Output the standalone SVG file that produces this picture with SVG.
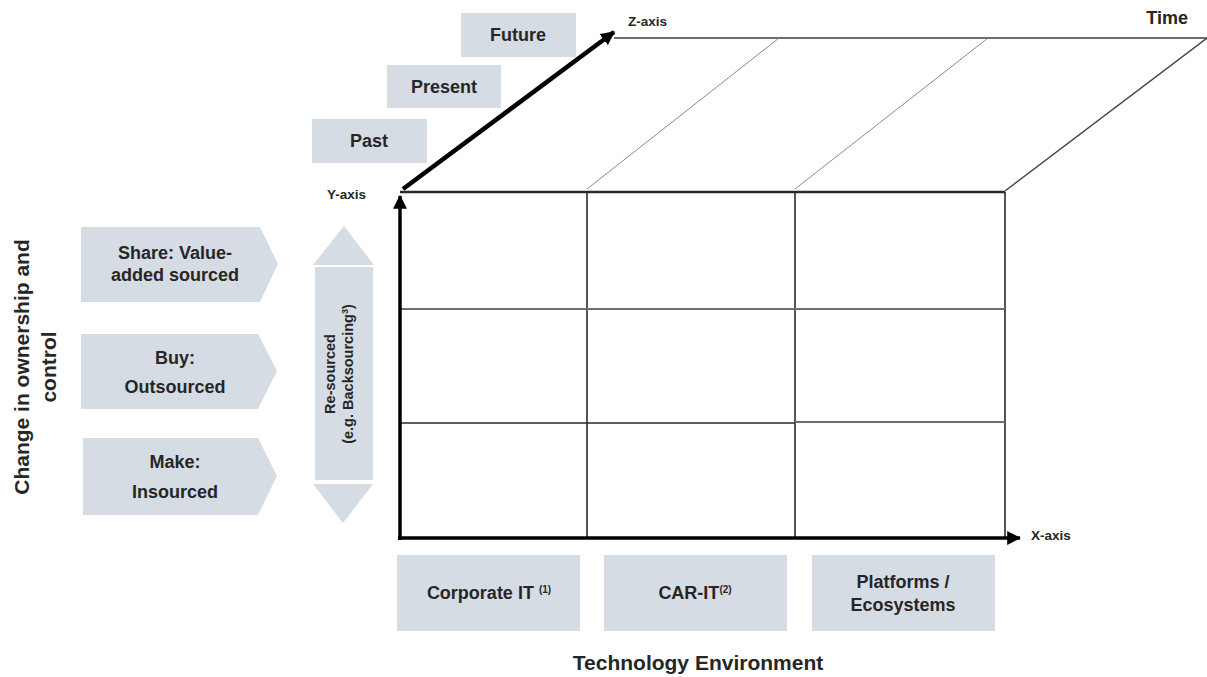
<svg xmlns="http://www.w3.org/2000/svg" width="1207" height="677" viewBox="0 0 1207 677">
<style>
text{font-family:"Liberation Sans",Arial,sans-serif;font-weight:bold;fill:#262626}
.box{fill:#D6DCE4}
.t17{font-size:18px}
.t13{font-size:13.5px}
.mid{text-anchor:middle}
.sup{font-size:10px}
.axis{stroke:#000;stroke-width:3.5;fill:none}
.gridd{stroke:#2a2a2a;stroke-width:1.6;fill:none}
.gridg{stroke:#6e6e6e;stroke-width:2;fill:none}
.diag{stroke:#8a8a8a;stroke-width:1;fill:none}
</style>
<defs>
<marker id="ah" markerUnits="userSpaceOnUse" markerWidth="14" markerHeight="14" refX="11" refY="6" orient="auto" viewBox="0 0 12 12">
<path d="M0,0 L12,6 L0,12 z" fill="#000"/>
</marker>
</defs>
<rect width="1207" height="677" fill="#fff"/>

<g id="connectors">
<line class="gridg" x1="614" y1="38" x2="1207" y2="38"/>
<line class="diag" x1="587" y1="189" x2="779" y2="38"/>
<line class="diag" x1="795" y1="189" x2="988" y2="38"/>
<line class="gridd" x1="1005" y1="191" x2="1207" y2="38" style="stroke:#444;stroke-width:1.4"/>
<line class="gridd" x1="400" y1="192" x2="1005" y2="192" style="stroke-width:2.4"/>
<line class="gridd" x1="587" y1="192" x2="587" y2="538"/>
<line class="gridd" x1="795" y1="192" x2="795" y2="538"/>
<line class="gridd" x1="1005" y1="192" x2="1005" y2="538"/>
<line class="gridg" x1="400" y1="309" x2="1005" y2="309"/>
<line class="gridd" x1="400" y1="423" x2="795" y2="423" style="stroke-width:1.4"/>
<line class="gridg" x1="795" y1="422" x2="1005" y2="422"/>
<line class="axis" x1="400" y1="540" x2="400" y2="196" marker-end="url(#ah)"/>
<line class="axis" x1="398" y1="538" x2="1020" y2="538" marker-end="url(#ah)"/>
<line class="axis" style="stroke-width:4.5" x1="403" y1="189" x2="614" y2="32" marker-end="url(#ah)"/>
</g>

<g id="axis-labels">
<text class="t13" x="327" y="199">Y-axis</text>
<text class="t13" x="628" y="26">Z-axis</text>
<text class="t13" x="1031" y="540">X-axis</text>
<text class="t17" x="1188" y="24" text-anchor="end">Time</text>
</g>

<g id="future">
<rect class="box" x="461" y="13" width="115" height="44"/>
<text class="t17 mid" x="518" y="41">Future</text>
</g>
<g id="present">
<rect class="box" x="387" y="65" width="114" height="43"/>
<text class="t17 mid" x="444" y="93">Present</text>
</g>
<g id="past">
<rect class="box" x="312" y="119" width="115" height="44"/>
<text class="t17 mid" x="369" y="147">Past</text>
</g>

<g id="share">
<path class="box" d="M81,227 H260 L278,264 L260,302 H81 Z"/>
<text class="t17 mid" x="175" y="259">Share: Value-</text>
<text class="t17 mid" x="175" y="281">added sourced</text>
</g>
<g id="buy">
<path class="box" d="M81,334 H258 L277,371 L258,409 H81 Z"/>
<text class="t17 mid" x="175" y="364">Buy:</text>
<text class="t17 mid" x="175" y="393">Outsourced</text>
</g>
<g id="make">
<path class="box" d="M83,438 H258 L277,476 L258,515 H83 Z"/>
<text class="t17 mid" x="175" y="468">Make:</text>
<text class="t17 mid" x="175" y="498">Insourced</text>
</g>

<g id="resourced">
<polygon class="box" points="344,226 374,265 313,265"/>
<rect class="box" x="315" y="267" width="58" height="213"/>
<polygon class="box" points="313,484 373,484 343,523"/>
<text class="mid" font-size="14.5" transform="translate(335,374) rotate(-90)">Re-sourced</text>
<text class="mid" font-size="14.5" transform="translate(353,374) rotate(-90)">(e.g. Backsourcing<tspan font-size="9" dy="-5">3</tspan><tspan dy="5">)</tspan></text>
</g>

<g id="ownership-label">
<text class="mid" font-size="21" transform="translate(29,367) rotate(-90)">Change in ownership and</text>
<text class="mid" font-size="21" transform="translate(56,367) rotate(-90)">control</text>
</g>

<g id="corporate-it">
<rect class="box" x="397" y="555" width="183" height="76"/>
<text class="t17 mid" x="489" y="599">Corporate IT <tspan class="sup" dy="-6">(1)</tspan></text>
</g>
<g id="car-it">
<rect class="box" x="604" y="555" width="183" height="76"/>
<text class="t17 mid" x="695" y="599">CAR-IT<tspan class="sup" dy="-6">(2)</tspan></text>
</g>
<g id="platforms">
<rect class="box" x="812" y="555" width="183" height="76"/>
<text class="t17 mid" x="903" y="588">Platforms /</text>
<text class="t17 mid" x="903" y="611">Ecosystems</text>
</g>

<g id="tech-label">
<text class="mid" font-size="21" x="698" y="670">Technology Environment</text>
</g>
</svg>
